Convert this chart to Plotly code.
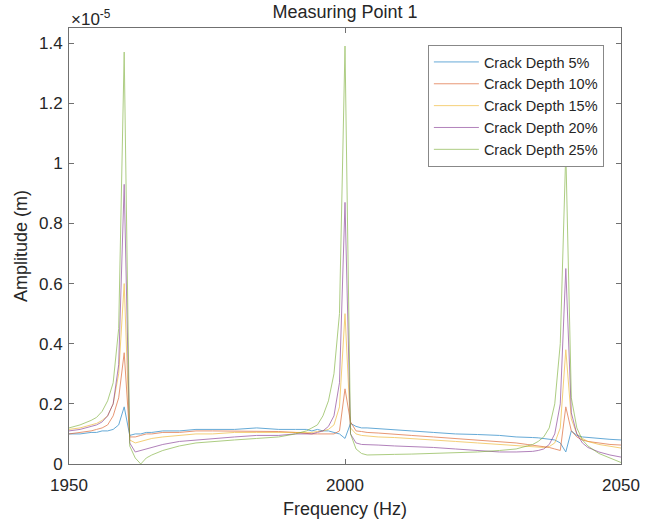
import plotly.graph_objects as go

freq = [1950, 1952, 1954, 1955, 1956, 1957, 1958, 1959, 1960, 1961, 1962, 1963, 1964, 1965, 1967, 1970,
        1973, 1976, 1980, 1984, 1988, 1991, 1993, 1994, 1995, 1996, 1997, 1998, 1999, 2000, 2001, 2002,
        2003, 2004, 2006, 2009, 2012, 2016, 2020, 2024, 2028, 2031, 2033, 2034, 2035, 2036, 2037, 2038,
        2039, 2040, 2041, 2042, 2043, 2044, 2046, 2048, 2050]

# amplitudes in units of 1e-5 m
depth5 = [0.10, 0.10, 0.105, 0.105, 0.11, 0.11, 0.115, 0.13, 0.19, 0.095, 0.10, 0.10, 0.105, 0.105, 0.11, 0.11,
          0.115, 0.115, 0.115, 0.12, 0.115, 0.115, 0.115, 0.11, 0.115, 0.11, 0.11, 0.105, 0.10, 0.085, 0.135, 0.125,
          0.12, 0.12, 0.118, 0.115, 0.11, 0.105, 0.10, 0.098, 0.095, 0.09, 0.09, 0.088, 0.087, 0.085, 0.083, 0.08,
          0.07, 0.04, 0.11, 0.095, 0.09, 0.088, 0.085, 0.082, 0.08]
depth10 = [0.10, 0.105, 0.11, 0.115, 0.12, 0.13, 0.16, 0.22, 0.37, 0.09, 0.09, 0.095, 0.10, 0.10, 0.105, 0.105,
           0.11, 0.11, 0.11, 0.11, 0.108, 0.105, 0.10, 0.10, 0.10, 0.10, 0.10, 0.10, 0.11, 0.25, 0.14, 0.11,
           0.108, 0.105, 0.103, 0.10, 0.095, 0.09, 0.085, 0.08, 0.075, 0.07, 0.065, 0.063, 0.06, 0.058, 0.055, 0.05,
           0.045, 0.19, 0.11, 0.09, 0.08, 0.075, 0.07, 0.065, 0.063]
depth15 = [0.115, 0.12, 0.13, 0.135, 0.145, 0.16, 0.20, 0.30, 0.60, 0.08, 0.07, 0.075, 0.08, 0.085, 0.09, 0.095,
           0.10, 0.10, 0.105, 0.105, 0.105, 0.105, 0.105, 0.105, 0.108, 0.11, 0.115, 0.13, 0.19, 0.50, 0.12, 0.10,
           0.095, 0.093, 0.09, 0.088, 0.085, 0.08, 0.075, 0.07, 0.065, 0.06, 0.058, 0.056, 0.055, 0.055, 0.058, 0.07,
           0.12, 0.38, 0.15, 0.10, 0.085, 0.075, 0.065, 0.058, 0.053]
depth20 = [0.11, 0.115, 0.125, 0.13, 0.14, 0.16, 0.20, 0.33, 0.93, 0.07, 0.04, 0.045, 0.05, 0.055, 0.065, 0.075,
           0.08, 0.085, 0.09, 0.095, 0.095, 0.10, 0.10, 0.10, 0.105, 0.11, 0.125, 0.16, 0.27, 0.87, 0.10, 0.07,
           0.065, 0.065, 0.063, 0.06, 0.058, 0.055, 0.05, 0.045, 0.04, 0.04, 0.04, 0.042, 0.045, 0.05, 0.065, 0.10,
           0.20, 0.65, 0.17, 0.10, 0.07, 0.055, 0.04, 0.03, 0.023]
depth25 = [0.12, 0.13, 0.145, 0.155, 0.175, 0.21, 0.27, 0.45, 1.37, 0.06, 0.02, 0.0, 0.02, 0.03, 0.045, 0.06,
           0.07, 0.075, 0.08, 0.085, 0.09, 0.10, 0.11, 0.12, 0.13, 0.16, 0.21, 0.30, 0.50, 1.39, 0.10, 0.05,
           0.035, 0.03, 0.03, 0.032, 0.033, 0.035, 0.037, 0.04, 0.045, 0.05, 0.06, 0.065, 0.075, 0.09, 0.12, 0.20,
           0.40, 1.04, 0.22, 0.12, 0.08, 0.06, 0.035, 0.02, 0.005]

names = ["Crack Depth 5%", "Crack Depth 10%", "Crack Depth 15%", "Crack Depth 20%", "Crack Depth 25%"]
series = [depth5, depth10, depth15, depth20, depth25]
colors = ["#0072BD", "#D95319", "#EDB120", "#7E2F8E", "#77AC30"]

FONT = "Liberation Sans, Arial, sans-serif"
TXT = "#262626"

fig = go.Figure()
for name, ys, c in zip(names, series, colors):
    fig.add_trace(go.Scatter(x=freq, y=ys, mode="lines", name=name,
                             line=dict(color=c, width=1), opacity=0.6))

fig.update_layout(
    width=650, height=519,
    margin=dict(l=69, r=29, t=28, b=55, autoexpand=False),
    paper_bgcolor="white", plot_bgcolor="white",
    font=dict(family=FONT, size=17, color=TXT),
    title=dict(text="Measuring Point 1", x=0.5, xref="paper", xanchor="center",
               y=1 - 12 / 519, yref="container", yanchor="middle",
               font=dict(size=18, color=TXT)),
    showlegend=True,
    legend=dict(x=0.969, y=0.961, xanchor="right", yanchor="top",
                bgcolor="white", bordercolor="#888", borderwidth=1,
                font=dict(size=14.5, color=TXT), tracegroupgap=0, itemwidth=45),
)
fig.update_xaxes(range=[1950, 2050], tickvals=[1950, 2000, 2050], ticks="inside", ticklen=5,
                 ticklabelstandoff=6, automargin=False,
                 showline=True, mirror="ticks", linecolor="#707070", linewidth=1, tickcolor="#707070",
                 showgrid=False, zeroline=False,
                 title=dict(text="Frequency (Hz)", font=dict(size=18), standoff=10))
fig.update_yaxes(range=[0, 1.45], tickvals=[0, 0.2, 0.4, 0.6, 0.8, 1.0, 1.2, 1.4],
                 ticktext=["0", "0.2", "0.4", "0.6", "0.8", "1", "1.2", "1.4"],
                 ticks="inside", ticklen=5, ticklabelstandoff=2, automargin=False,
                 showline=True, mirror="ticks", linecolor="#707070", linewidth=1, tickcolor="#707070",
                 showgrid=False, zeroline=False,
                 title=dict(text="Amplitude (m)", font=dict(size=18), standoff=6))
fig.add_annotation(text="×10<sup>-5</sup>", xref="paper", yref="paper", x=0, y=1.0,
                   xanchor="left", yanchor="bottom", showarrow=False,
                   font=dict(size=17, color=TXT), yshift=-3)

fig.write_html("out.html")
